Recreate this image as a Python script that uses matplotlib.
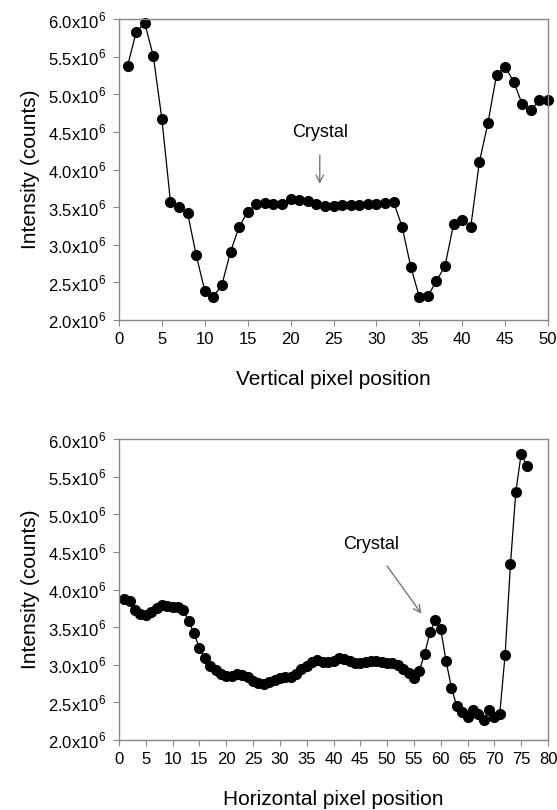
import matplotlib
matplotlib.use("Agg")
import matplotlib.pyplot as plt
from matplotlib.ticker import FuncFormatter

plt.rcParams['font.family'] = ['Liberation Sans', 'DejaVu Sans']
plt.rcParams['mathtext.fontset'] = 'custom'
plt.rcParams['mathtext.rm'] = 'Liberation Sans'

# vertical profile (intensity in units of 1e6 counts)
vert_x = list(range(1, 51))
vert_y = [5.38, 5.83, 5.95, 5.51, 4.67, 3.57, 3.50, 3.42, 2.86, 2.39,
          2.31, 2.47, 2.91, 3.24, 3.44, 3.54, 3.56, 3.54, 3.54, 3.61,
          3.60, 3.58, 3.54, 3.52, 3.52, 3.53, 3.53, 3.53, 3.54, 3.54,
          3.55, 3.57, 3.24, 2.71, 2.31, 2.32, 2.52, 2.72, 3.28, 3.33,
          3.24, 4.10, 4.62, 5.26, 5.37, 5.17, 4.87, 4.79, 4.92, 4.92]

# horizontal profile
horiz_x = list(range(1, 77))
horiz_y = [3.87, 3.85, 3.73, 3.68, 3.66, 3.70, 3.75, 3.80, 3.78, 3.77,
           3.77, 3.73, 3.58, 3.42, 3.22, 3.09, 2.98, 2.93, 2.88, 2.85,
           2.85, 2.88, 2.87, 2.84, 2.79, 2.76, 2.75, 2.77, 2.80, 2.82,
           2.84, 2.84, 2.88, 2.94, 2.99, 3.04, 3.06, 3.04, 3.04, 3.05,
           3.09, 3.08, 3.05, 3.03, 3.03, 3.04, 3.05, 3.05, 3.04, 3.03,
           3.02, 3.00, 2.95, 2.89, 2.82, 2.92, 3.15, 3.43, 3.60, 3.47,
           3.05, 2.69, 2.45, 2.37, 2.31, 2.40, 2.34, 2.27, 2.40, 2.31,
           2.35, 3.13, 4.34, 5.30, 5.81, 5.65]

y_ticks = [2.0, 2.5, 3.0, 3.5, 4.0, 4.5, 5.0, 5.5, 6.0]

fig = plt.figure(figsize=(5.57, 8.10), dpi=100)
ax1 = fig.add_axes([119/557, 1 - 320/810, (548-119)/557, (320-19.3)/810])
ax2 = fig.add_axes([119/557, 1 - 740/810, (548-119)/557, (740-439.3)/810])

fmt = FuncFormatter(lambda v, p: f'{v:.1f}x10$^{{6}}$')

def style(ax, xmax, xstep, xlabel):
    ax.set_xlim(0, xmax)
    ax.set_ylim(2.0, 6.0)
    ax.set_xticks(range(0, xmax + 1, xstep))
    ax.set_yticks(y_ticks)
    ax.yaxis.set_major_formatter(fmt)
    for s in ax.spines.values():
        s.set_color('#888888')
        s.set_linewidth(1.0)
    ax.tick_params(direction='out', length=4, color='#888888', labelsize=12, pad=5)
    ax.set_xlabel(xlabel, fontsize=15, labelpad=16)
    ax.set_ylabel('Intensity (counts)', fontsize=15, labelpad=6)

ax1.plot(vert_x, vert_y, '-o', color='black', lw=0.9, markersize=7, clip_on=False)
style(ax1, 50, 5, 'Vertical pixel position')
ax1.annotate('Crystal', xy=(23.4, 3.81), xytext=(23.4, 4.49), ha='center', va='center',
             fontsize=13, arrowprops=dict(arrowstyle='->', color='#777777', lw=1.0,
                                          shrinkA=8, shrinkB=0))

ax2.plot(horiz_x, horiz_y, '-o', color='black', lw=0.9, markersize=7, clip_on=False)
style(ax2, 80, 5, 'Horizontal pixel position')
ax2.annotate('Crystal', xy=(56.4, 3.68), xytext=(47.1, 4.60), ha='center', va='center',
             fontsize=13, arrowprops=dict(arrowstyle='->', color='#777777', lw=1.0,
                                          shrinkA=9, shrinkB=0))

fig.savefig('out.png', dpi=100)
